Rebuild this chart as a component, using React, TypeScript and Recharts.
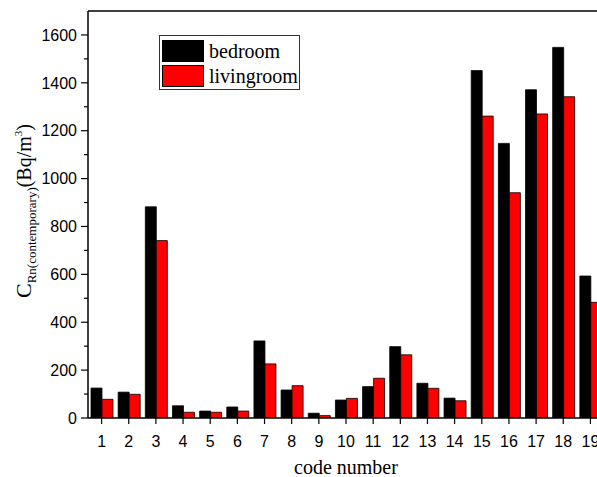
import React from "react";
import { Bar, BarChart, Legend, ReferenceLine, XAxis, YAxis } from "recharts";

const codes = ["1", "2", "3", "4", "5", "6", "7", "8", "9", "10", "11", "12", "13", "14", "15", "16", "17", "18", "19"];
const bedroom = [125, 108, 882, 51, 29, 46, 322, 117, 20, 75, 131, 298, 145, 83, 1451, 1147, 1371, 1548, 593];
const livingroom = [78, 99, 741, 24, 24, 29, 226, 135, 10, 82, 166, 264, 124, 72, 1261, 941, 1270, 1342, 483];
const yTicks = [0, 100, 200, 300, 400, 500, 600, 700, 800, 900, 1000, 1100, 1200, 1300, 1400, 1500, 1600];

const data = codes.map((c, i) => ({ code: c, bedroom: bedroom[i], livingroom: livingroom[i] }));

const SANS = "'Liberation Sans', Arial, sans-serif";
const SERIF = "'Liberation Serif', 'Times New Roman', serif";

function YTick({ x, y, payload }: any) {
  const major = payload.value % 200 === 0;
  return (
    <g>
      <line x1={x - (major ? 7 : 4)} x2={x} y1={y} y2={y} stroke="#000" strokeWidth={1.2} />
      {major && (
        <text x={x - 11} y={y} dy="0.36em" textAnchor="end" fontFamily={SANS} fontSize={16} fill="#000">
          {payload.value}
        </text>
      )}
    </g>
  );
}

function XTick({ x, y, payload }: any) {
  return (
    <g>
      <line x1={x} x2={x} y1={y} y2={y + 6} stroke="#000" strokeWidth={1.2} />
      <text x={x} y={y + 29} textAnchor="middle" fontFamily={SANS} fontSize={16} fill="#000">
        {payload.value}
      </text>
    </g>
  );
}

function YLabel() {
  return (
    <text transform="translate(31, 211) rotate(-90)" textAnchor="middle" fontFamily={SERIF} fill="#000" fontSize={20}>
      <tspan fontSize={22}>C</tspan>
      <tspan fontSize={13} dy={5}>Rn(contemporary)</tspan>
      <tspan dy={-5}>(Bq/m</tspan>
      <tspan fontSize={11} dy={-9}>3</tspan>
      <tspan dy={9}>)</tspan>
    </text>
  );
}

function XLabel() {
  return (
    <text x={346} y={474} textAnchor="middle" fontFamily={SERIF} fontSize={20} fill="#000">
      code number
    </text>
  );
}

function LegendBox() {
  const row = (color: string, label: string) => (
    <div style={{ display: "flex", alignItems: "center", height: 25 }}>
      <div style={{ width: 42, height: 22, background: color, border: "1px solid #000", boxSizing: "border-box" }} />
      <span style={{ marginLeft: 5, fontFamily: SERIF, fontSize: 20, lineHeight: "20px", color: "#000" }}>{label}</span>
    </div>
  );
  return (
    <div
      style={{
        width: 141,
        height: 55,
        border: "1px solid #333",
        boxSizing: "border-box",
        padding: "2px 0 0 2px",
        background: "#fff",
      }}
    >
      {row("#000000", "bedroom")}
      {row("#ff0000", "livingroom")}
    </div>
  );
}

export default function App() {
  return (
    <div style={{ position: "fixed", left: 0, top: 0, width: 597, height: 477, overflow: "hidden", background: "#fff" }}>
      <BarChart
        width={621}
        height={477}
        data={data}
        margin={{ top: 11, right: 17, bottom: 0, left: 0 }}
        barGap={0}
        barSize={11}
      >
        <XAxis
          dataKey="code"
          height={59}
          tickSize={0}
          tickMargin={0}
          tick={<XTick />}
          axisLine={{ stroke: "#000", strokeWidth: 1.5 }}
          tickLine={false}
          interval={0}
          label={<XLabel />}
        />
        <YAxis
          width={88}
          domain={[0, 1700]}
          ticks={yTicks}
          tickSize={0}
          tickMargin={0}
          tick={<YTick />}
          axisLine={{ stroke: "#000", strokeWidth: 1.5 }}
          tickLine={false}
          interval={0}
          allowDataOverflow
          label={<YLabel />}
        />
        <ReferenceLine y={1700} stroke="#000" strokeWidth={1.5} />
        <Legend
          layout="horizontal"
          verticalAlign="middle"
          align="center"
          content={<LegendBox />}
          wrapperStyle={{ position: "absolute", left: 159, top: 35, width: 141, height: 55 }}
        />
        <Bar dataKey="bedroom" name="bedroom" fill="#000000" stroke="#000" strokeWidth={0.8} isAnimationActive={false} />
        <Bar dataKey="livingroom" name="livingroom" fill="#ff0000" stroke="#000" strokeWidth={0.8} isAnimationActive={false} />
      </BarChart>
    </div>
  );
}
